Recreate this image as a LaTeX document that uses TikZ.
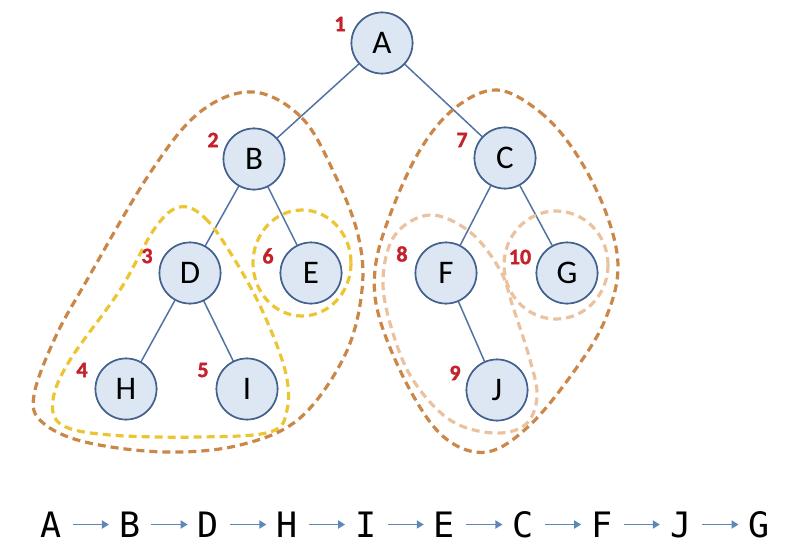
\documentclass[tikz,border=0pt]{standalone}
\usepackage{fontspec}
\setmainfont{Carlito}
\newfontfamily\numfont{Carlito Bold}[FakeBold=1.5]
\newfontfamily\seqfont{DejaVu Sans Mono}
\usetikzlibrary{arrows.meta}
\definecolor{nodefill}{HTML}{DDE7F4}
\definecolor{nodeline}{HTML}{44628E}
\definecolor{edgecol}{HTML}{5273A3}
\definecolor{numred}{HTML}{C4222B}
\definecolor{darkor}{HTML}{CA8748}
\definecolor{yell}{HTML}{EBC632}
\definecolor{tan}{HTML}{EBC2A0}
\definecolor{arrblue}{HTML}{5B88B8}
\tikzset{
  tnode/.style={circle,draw=nodeline,fill=nodefill,line width=1.6pt,minimum size=61pt,inner sep=0pt,font=\fontsize{33}{33}\selectfont},
  edge/.style={draw=edgecol,line width=1.5pt},
  num/.style={text=numred,font=\numfont\fontsize{22}{22}\selectfont,inner sep=0pt},
  dashcurve/.style={line width=3.2pt,dash pattern=on 8pt off 5pt},
  seq/.style={font=\seqfont\fontsize{35}{35}\selectfont,inner sep=0pt,anchor=base,text height=25pt,text depth=0pt},
  seqarrow/.style={draw=arrblue,line width=1.8pt,-{Triangle[length=7pt,width=8pt]},shorten <=11pt,shorten >=10pt}
}
\begin{document}
\begin{tikzpicture}[x=1pt,y=-1pt]
\useasboundingbox (0,0) rectangle (794,556);
% tree nodes
\path
  (382,43) node[tnode] (A) {A}
  (254,159) node[tnode] (B) {B}
  (505,158) node[tnode] (C) {C}
  (190,273) node[tnode] (D) {D}
  (311,273) node[tnode] (E) {E}
  (446,273) node[tnode] (F) {F}
  (567,273) node[tnode] (G) {G}
  (126,389) node[tnode] (H) {H}
  (247,389) node[tnode] (I) {I}
  (497,390) node[tnode] (J) {J};
% edges
\draw[edge] (A) -- (B);
\draw[edge] (A) -- (C);
\draw[edge] (B) -- (D);
\draw[edge] (B) -- (E);
\draw[edge] (D) -- (H);
\draw[edge] (D) -- (I);
\draw[edge] (C) -- (F);
\draw[edge] (C) -- (G);
\draw[edge] (F) -- (J);
% dashed groupings
\draw[dashcurve,darkor] plot[smooth cycle,tension=0.6] coordinates {
  (253,92) (302,118) (335,175) (358,235) (362,290) (345,355) (300,418)
  (240,445) (165,452) (85,442) (42,422) (34,395) (55,338) (87,280)
  (150,173) (200,112)};
\draw[dashcurve,yell] plot[smooth cycle,tension=0.6] coordinates {
  (180,207) (205,218) (233,257) (262,310) (285,370) (287,410) (270,432)
  (200,437) (110,435) (62,425) (53,400) (70,360) (120,290) (155,228)};
\draw[dashcurve,yell] (302,263) ellipse [x radius=49, y radius=53];
\draw[dashcurve,darkor] plot[smooth cycle,tension=0.6] coordinates {
  (497,90) (540,112) (575,152) (605,210) (618,267) (605,320) (575,370)
  (530,425) (487,452) (445,438) (410,390) (380,320) (375,270) (390,215)
  (420,150) (455,108)};
\draw[dashcurve,tan] plot[smooth cycle,tension=0.6] coordinates {
  (430,215) (470,232) (500,270) (513,307) (530,360) (537,397) (525,425)
  (493,433) (450,420) (413,380) (392,330) (383,280) (395,235)};
\draw[dashcurve,tan] (556,265) ellipse [x radius=52, y radius=54];
% redraw nodes on top of the curves
\foreach \n/\p in {A/{(382,43)},B/{(254,159)},C/{(505,158)},D/{(190,273)},E/{(311,273)},F/{(446,273)},G/{(567,273)},H/{(126,389)},I/{(247,389)},J/{(497,390)}}
  \node[tnode] at \p {\n};
% visit order numbers
\node[num] (n1) at (340,24) {1};
\node[num] (n2) at (213,140) {2};
\node[num] (n3) at (147,256) {3};
\node[num] (n4) at (82,370) {4};
\node[num] (n5) at (203,370) {5};
\node[num] (n6) at (268,256) {6};
\node[num] (n7) at (462,140) {7};
\node[num] (n8) at (402,254) {8};
\node[num] (n9) at (455,373) {9};
\node[num] (n10) at (520,257) {10};
% sequence
\foreach \l [count=\i from 0] in {A,B,D,H,I,E,C,F,J,G}
  \node[seq] (s\i) at ({51+78.7*\i},537) {\l};
\foreach \i [evaluate=\i as \j using int(\i+1)] in {0,...,8}
  \draw[seqarrow] (s\i.east) -- (s\j.west);
\end{tikzpicture}
\end{document}
